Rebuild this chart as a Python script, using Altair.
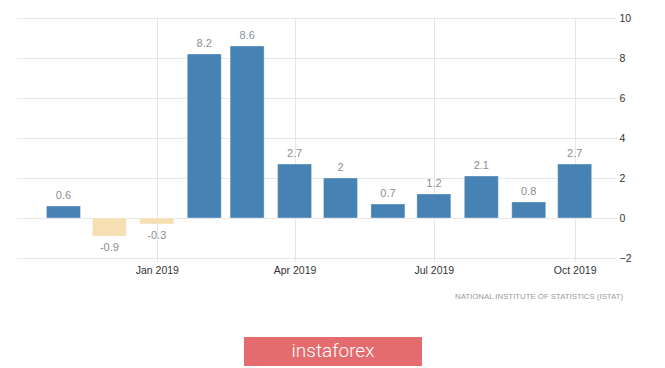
import altair as alt
import pandas as pd

months = ["2018-11-01", "2018-12-01", "2019-01-01", "2019-02-01", "2019-03-01", "2019-04-01",
          "2019-05-01", "2019-06-01", "2019-07-01", "2019-08-01", "2019-09-01", "2019-10-01"]
values = [0.6, -0.9, -0.3, 8.2, 8.6, 2.7, 2.0, 0.7, 1.2, 2.1, 0.8, 2.7]
y_ticks = [-2, 0, 2, 4, 6, 8, 10]
source_text = "NATIONAL INSTITUTE OF STATISTICS (ISTAT)"
brand_text = "instaforex"

df = pd.DataFrame({"date": months, "value": values})
df["label"] = [f"{v:g}" for v in values]
df["sign"] = ["neg" if v < 0 else "pos" for v in values]

FONT = "Liberation Sans, Arial"

xscale = alt.Scale(type="utc", padding=0,
                   domain=[alt.DateTime(year=2018, month=10, date=1, utc=True),
                           alt.DateTime(year=2019, month=10, date=28, utc=True)])
yscale = alt.Scale(domain=[-2, 10], nice=False, zero=False)

xaxis = alt.Axis(
    values=[alt.DateTime(year=2019, month=m, date=1, utc=True) for m in (1, 4, 7, 10)],
    tickCount=12,
    format="%b %Y", title=None, domain=False, grid=True, gridDash=[1, 1],
    gridColor="#cfcfcf", tickColor="#cfcfcf", tickDash=[1, 1], tickSize=4,
    labelFontSize=10.5, labelColor="#333333", labelFont=FONT, labelPadding=3,
    labelOverlap=False,
)
yaxis = alt.Axis(
    orient="right", values=y_ticks, tickCount=7, title=None, domain=False, grid=True,
    gridDash=[1, 1], gridColor="#cfcfcf", ticks=False, labelPadding=3,
    labelFontSize=10.5, labelColor="#333333", labelFont=FONT, labelOverlap=False,
)

base = alt.Chart(df)

bars = base.mark_bar(size=34, strokeWidth=1, strokeOpacity=0.35, stroke="white").encode(
    x=alt.X("date:T", scale=xscale, axis=xaxis),
    y=alt.Y("value:Q", scale=yscale, axis=yaxis),
    y2=alt.datum(0),
    color=alt.Color("sign:N", scale=alt.Scale(domain=["pos", "neg"], range=["#4682b4", "#f5dfb3"]),
                    legend=None),
)

pos_labels = base.transform_filter("datum.value >= 0").mark_text(
    baseline="bottom", dy=-5, fontSize=11, color="#8a8f96", font=FONT
).encode(x=alt.X("date:T", scale=xscale, axis=xaxis),
         y=alt.Y("value:Q", scale=yscale, axis=yaxis), text="label:N")

neg_labels = base.transform_filter("datum.value < 0").mark_text(
    baseline="top", dy=6, fontSize=11, color="#8a8f96", font=FONT
).encode(x=alt.X("date:T", scale=xscale, axis=xaxis),
         y=alt.Y("value:Q", scale=yscale, axis=yaxis), text="label:N")

one = alt.Data(values=[{"k": 1}])

source = alt.Chart(one).mark_text(
    align="right", baseline="middle", fontSize=7.8, color="#9a9a9a", font=FONT
).encode(x=alt.value(607), y=alt.value(279), text=alt.value(source_text))

button = alt.Chart(one).mark_rect(color="#e46c6e").encode(
    x=alt.value(228), x2=alt.value(406), y=alt.value(319), y2=alt.value(348)
)
brand = alt.Chart(one).mark_text(
    align="center", baseline="middle", fontSize=19, color="white", font="Roboto", fontWeight=300
).encode(x=alt.value(317), y=alt.value(333), text=alt.value(brand_text))

chart = alt.layer(bars, pos_labels, neg_labels, source, button, brand).properties(
    width=600, height=240,
    autosize=alt.AutoSizeParams(type="none"),
    padding={"left": 8, "top": 10, "right": 41, "bottom": 112},
).configure_view(stroke=None)

chart.save("out.html", embed_options={"renderer": "svg", "actions": False})
